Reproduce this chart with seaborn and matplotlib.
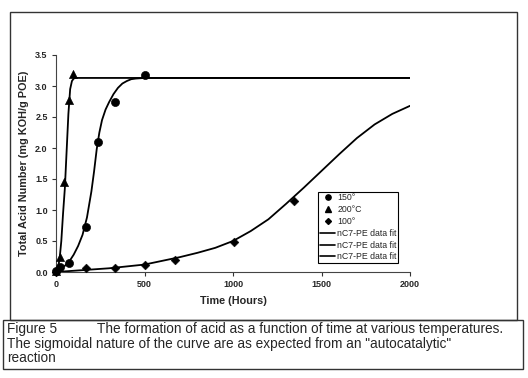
import numpy as np
import seaborn as sns
import matplotlib
matplotlib.use('Agg')
import matplotlib.pyplot as plt
from matplotlib.patches import Rectangle
from matplotlib.lines import Line2D

# measured points (hours, TAN)
t_150 = [0, 24, 72, 168, 240, 336, 500]
tan_150 = [0.02, 0.08, 0.15, 0.73, 2.10, 2.74, 3.18]

t_200 = [0, 24, 48, 72, 96]
tan_200 = [0.02, 0.25, 1.45, 2.77, 3.19]

t_100 = [0, 168, 336, 500, 672, 1008, 1344]
tan_100 = [0.0, 0.06, 0.06, 0.11, 0.19, 0.49, 1.15]

# fitted curves
fit_t_200 = [0, 10, 20, 30, 40, 50, 60, 70, 80, 90, 100, 110, 2000]
fit_200 = [0.0, 0.06, 0.2, 0.5, 0.95, 1.35, 1.95, 2.55, 2.95, 3.08, 3.12, 3.13, 3.13]

fit_t_150 = [0, 25, 50, 75, 100, 125, 150, 175, 200, 215, 230, 245, 260, 280, 300,
             325, 350, 375, 400, 425, 450, 500, 2000]
fit_150 = [0.0, 0.04, 0.1, 0.17, 0.28, 0.42, 0.6, 0.88, 1.3, 1.62, 1.98, 2.25, 2.45,
           2.62, 2.74, 2.87, 2.97, 3.04, 3.08, 3.11, 3.12, 3.13, 3.13]

fit_t_100 = [0, 100, 200, 300, 400, 500, 600, 700, 800, 900, 1000, 1100, 1200, 1300,
             1400, 1500, 1600, 1700, 1800, 1900, 2000]
fit_100 = [0.0, 0.02, 0.04, 0.06, 0.09, 0.12, 0.18, 0.24, 0.31, 0.39, 0.5, 0.66, 0.85,
           1.1, 1.36, 1.63, 1.9, 2.16, 2.38, 2.55, 2.68]

x_ticks = [0, 500, 1000, 1500, 2000]
y_ticks = [0.0, 0.5, 1.0, 1.5, 2.0, 2.5, 3.0, 3.5]

legend_labels = ['150°', '200°C', '100°', 'nC7-PE data fit', 'nC7-PE data fit', 'nC7-PE data fit']

caption_head = 'Figure 5'
caption_lines = ['The formation of acid as a function of time at various temperatures.',
                 'The sigmoidal nature of the curve are as expected from an "autocatalytic"',
                 'reaction']

sns.set_style('white')
plt.rcParams['font.family'] = ['Liberation Sans', 'DejaVu Sans']

W, H = 528, 378
fig = plt.figure(figsize=(W / 100, H / 100), dpi=100)
ax = fig.add_axes([56 / W, 1 - 272 / H, 354 / W, 217 / H])

lw = 1.3
sns.lineplot(x=fit_t_150, y=fit_150, color='black', lw=lw, ax=ax, estimator=None, sort=False)
sns.lineplot(x=fit_t_200, y=fit_200, color='black', lw=lw, ax=ax, estimator=None, sort=False)
sns.lineplot(x=fit_t_100, y=fit_100, color='black', lw=lw, ax=ax, estimator=None, sort=False)

sns.scatterplot(x=t_150, y=tan_150, marker='o', s=34, color='black', edgecolor='black',
                ax=ax, clip_on=False, zorder=3)
sns.scatterplot(x=t_200, y=tan_200, marker='^', s=34, color='black', edgecolor='black',
                ax=ax, clip_on=False, zorder=3)
sns.scatterplot(x=t_100, y=tan_100, marker='D', s=20, color='black', edgecolor='black',
                ax=ax, clip_on=False, zorder=3)

ax.set_xlim(0, 2000)
ax.set_ylim(0, 3.5)
ax.set_xticks(x_ticks)
ax.set_yticks(y_ticks)
ax.set_yticklabels([f'{v:.1f}' for v in y_ticks])
ax.tick_params(axis='both', direction='out', length=3, width=0.8, labelsize=6.5,
               color='#333333', pad=3, bottom=True, left=True)
for lab in ax.get_xticklabels() + ax.get_yticklabels():
    lab.set_fontweight('bold')
sns.despine(ax=ax)
for s in ['left', 'bottom']:
    ax.spines[s].set_color('#444444')
    ax.spines[s].set_linewidth(0.8)

ax.set_xlabel('Time (Hours)', fontsize=7.8, fontweight='bold', labelpad=5)
ax.set_ylabel('Total Acid Number (mg KOH/g POE)', fontsize=7.8, fontweight='bold', labelpad=4)

handles = [
    Line2D([], [], marker='o', ls='none', color='black', markersize=3.8),
    Line2D([], [], marker='^', ls='none', color='black', markersize=3.8),
    Line2D([], [], marker='D', ls='none', color='black', markersize=3),
    Line2D([], [], color='black', lw=1.2),
    Line2D([], [], color='black', lw=1.2),
    Line2D([], [], color='black', lw=1.2),
]
leg = ax.legend(handles, legend_labels, loc='upper left', bbox_to_anchor=(0.74, 0.37),
                frameon=True, fancybox=False, edgecolor='black', framealpha=1,
                fontsize=6.3, handlelength=1.8, handletextpad=0.2, borderpad=0.2,
                labelspacing=0.32, borderaxespad=0)
leg.get_frame().set_linewidth(0.8)

# chart and caption frames
fig.add_artist(Rectangle((10 / W, 1 - 320 / H), 507 / W, 308 / H, transform=fig.transFigure,
                         fill=False, edgecolor='#333333', lw=1))
fig.add_artist(Rectangle((3 / W, 1 - 369 / H), 520 / W, 49 / H, transform=fig.transFigure,
                         fill=False, edgecolor='#333333', lw=1))

fs_cap = 9.8
fig.text(7 / W, 1 - 333.5 / H, caption_head, fontsize=fs_cap, va='baseline', ha='left')
fig.text(97 / W, 1 - 333.5 / H, caption_lines[0], fontsize=fs_cap, va='baseline', ha='left')
fig.text(7 / W, 1 - 348 / H, caption_lines[1], fontsize=fs_cap, va='baseline', ha='left')
fig.text(7 / W, 1 - 362.5 / H, caption_lines[2], fontsize=fs_cap, va='baseline', ha='left')

fig.savefig('out.png', dpi=100)
